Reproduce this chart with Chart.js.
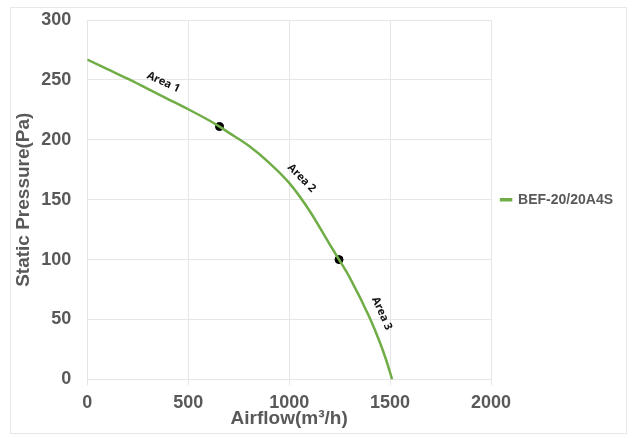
<!DOCTYPE html>
<html>
<head>
<meta charset="utf-8">
<script src="https://cdn.jsdelivr.net/npm/chart.js@4.4.0/dist/chart.umd.min.js"></script>
<style>
  html, body { margin: 0; padding: 0; background: #fff; }
  #wrap { width: 633px; height: 438px; }
</style>
</head>
<body>
<div id="wrap"><canvas id="fanChart" width="633" height="438"></canvas></div>
<script>
// fan curve
const airflow = [0, 100, 200, 300, 400, 500, 600, 655, 700, 800, 900, 1000, 1100, 1200, 1247, 1300, 1400, 1450, 1480, 1510];
const pressure = [267, 259, 251, 242.5, 234, 225.5, 216.5, 211, 206, 195, 181, 164, 141, 113, 100, 85, 51, 30.6, 16.4, 0];

// area boundary dots
const dotFlow = [655, 1247];
const dotPressure = [211, 100];

// area labels (data coords + rotation in degrees)
const areaNames = ["Area 1", "Area 2", "Area 3"];
const areaFlow = [377, 1062, 1459];
const areaPressure = [248, 168, 55];
const areaAngle = [25, 45, 66];

const xTicks = [0, 500, 1000, 1500, 2000];
const yTicks = [0, 50, 100, 150, 200, 250, 300];

const seriesName = "BEF-20/20A4S";
const green = "#70ad47";
const grey = "#595959";
const gridGrey = "#e6e6e6";
const fontFam = "'Liberation Sans', Arial, sans-serif";

const frame = {
  id: "frame",
  beforeDraw(chart) {
    const c = chart.ctx;
    c.save();
    c.fillStyle = "#fff";
    c.fillRect(0, 0, chart.width, chart.height);
    c.strokeStyle = "#e8e8e8";
    c.lineWidth = 1;
    c.strokeRect(10.5, 7.5, 616, 426);
    c.restore();
  }
};

const areaLabels = {
  id: "areaLabels",
  afterDatasetsDraw(chart) {
    const c = chart.ctx;
    const xs = chart.scales.x, ys = chart.scales.y;
    c.save();
    c.fillStyle = "#111";
    c.font = "bold 11px 'Open Sans', sans-serif";
    c.textAlign = "center";
    c.textBaseline = "middle";
    areaNames.forEach((name, i) => {
      c.save();
      c.translate(xs.getPixelForValue(areaFlow[i]), ys.getPixelForValue(areaPressure[i]));
      c.rotate(areaAngle[i] * Math.PI / 180);
      c.fillText(name, 0, 0);
      c.restore();
    });
    c.restore();
  }
};

new Chart(document.getElementById("fanChart"), {
  type: "scatter",
  data: {
    datasets: [{
      label: seriesName,
      data: airflow.map((x, i) => ({ x, y: pressure[i] })),
      showLine: true,
      borderColor: green,
      backgroundColor: green,
      borderWidth: 2.5,
      pointRadius: 0,
      cubicInterpolationMode: "monotone"
    }, {
      label: "dots",
      data: dotFlow.map((x, i) => ({ x, y: dotPressure[i] })),
      showLine: false,
      pointRadius: 4,
      backgroundColor: "#000",
      borderColor: "#000"
    }]
  },
  options: {
    responsive: false,
    animation: false,
    layout: { padding: { top: 20, left: 0, right: 10, bottom: 0 } },
    plugins: {
      tooltip: { enabled: false },
      legend: {
        position: "right",
        fullSize: false,
        labels: {
          color: grey,
          font: { family: fontFam, size: 14, weight: "bold" },
          boxWidth: 10,
          boxHeight: 1,
          padding: 10,
          filter: item => item.datasetIndex === 0
        }
      }
    },
    scales: {
      x: {
        type: "linear",
        min: 0, max: 2000,
        afterBuildTicks: s => { s.ticks = xTicks.map(v => ({ value: v })); },
        grid: { color: gridGrey, tickLength: 6, tickColor: gridGrey },
        border: { color: gridGrey },
        ticks: {
          color: grey, padding: 10,
          callback: v => String(v),
          font: { family: fontFam, size: 18, weight: "bold", lineHeight: 0.8 }
        },
        title: {
          display: true, text: "Airflow(m³/h)", color: grey,
          padding: { top: -9, bottom: 12 },
          font: { family: fontFam, size: 19, weight: "bold", lineHeight: 0.8 }
        }
      },
      y: {
        min: 0, max: 300,
        afterBuildTicks: s => { s.ticks = yTicks.map(v => ({ value: v })); },
        grid: { color: gridGrey, tickLength: 6, tickColor: "transparent" },
        border: { color: gridGrey },
        ticks: {
          color: grey, padding: 10,
          callback: v => String(v),
          font: { family: fontFam, size: 18, weight: "bold", lineHeight: 0.8 }
        },
        title: {
          display: true, text: "Static Pressure(Pa)", color: grey,
          padding: { top: 16, bottom: 0 },
          font: { family: fontFam, size: 19, weight: "bold", lineHeight: 0.8 }
        }
      }
    }
  },
  plugins: [frame, areaLabels]
});
</script>
</body>
</html>
